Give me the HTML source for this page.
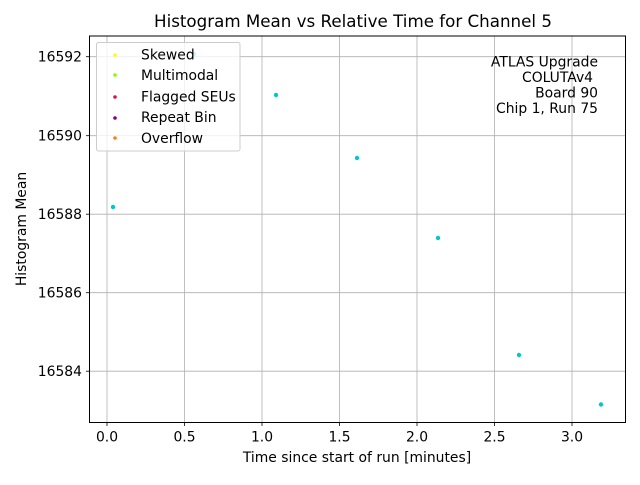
<!DOCTYPE html>
<html><head><style>
body{margin:0;background:#fff;}
svg text{font-family:"DejaVu Sans","Liberation Sans",sans-serif;fill:#000;}
</style></head><body>
<svg width="640" height="480" xmlns="http://www.w3.org/2000/svg">
<rect width="640" height="480" fill="#fff"/>
<g stroke="#b0b0b0" stroke-width="0.8">
<line x1="107" y1="36" x2="107" y2="422.5"/>
<line x1="184.5" y1="36" x2="184.5" y2="422.5"/>
<line x1="262" y1="36" x2="262" y2="422.5"/>
<line x1="339.5" y1="36" x2="339.5" y2="422.5"/>
<line x1="417" y1="36" x2="417" y2="422.5"/>
<line x1="494.5" y1="36" x2="494.5" y2="422.5"/>
<line x1="572" y1="36" x2="572" y2="422.5"/>
<line x1="89.5" y1="56.7" x2="625.5" y2="56.7"/>
<line x1="89.5" y1="135.7" x2="625.5" y2="135.7"/>
<line x1="89.5" y1="214.2" x2="625.5" y2="214.2"/>
<line x1="89.5" y1="292.7" x2="625.5" y2="292.7"/>
<line x1="89.5" y1="371.2" x2="625.5" y2="371.2"/>
</g>
<g fill="#00c8c8">
<circle cx="194" cy="54" r="2.2"/>
<circle cx="113" cy="207" r="2.2"/>
<circle cx="276" cy="95" r="2.2"/>
<circle cx="357" cy="158" r="2.2"/>
<circle cx="438" cy="238" r="2.2"/>
<circle cx="519" cy="355" r="2.2"/>
<circle cx="601" cy="404.5" r="2.2"/>
</g>
<rect x="89.5" y="36" width="536" height="386.5" fill="none" stroke="#000" stroke-width="1"/>
<g stroke="#000" stroke-width="0.8">
<line x1="107" y1="422.5" x2="107" y2="426"/><line x1="184.5" y1="422.5" x2="184.5" y2="426"/>
<line x1="262" y1="422.5" x2="262" y2="426"/><line x1="339.5" y1="422.5" x2="339.5" y2="426"/>
<line x1="417" y1="422.5" x2="417" y2="426"/><line x1="494.5" y1="422.5" x2="494.5" y2="426"/>
<line x1="572" y1="422.5" x2="572" y2="426"/>
<line x1="86" y1="56.7" x2="89.5" y2="56.7"/><line x1="86" y1="135.7" x2="89.5" y2="135.7"/>
<line x1="86" y1="214.2" x2="89.5" y2="214.2"/><line x1="86" y1="292.7" x2="89.5" y2="292.7"/>
<line x1="86" y1="371.2" x2="89.5" y2="371.2"/>
</g>
<g font-size="13.9" text-anchor="middle">
<text x="107" y="441.5">0.0</text><text x="184.5" y="441.5">0.5</text><text x="262" y="441.5">1.0</text>
<text x="339.5" y="441.5">1.5</text><text x="417" y="441.5">2.0</text><text x="494.5" y="441.5">2.5</text>
<text x="572" y="441.5">3.0</text>
</g>
<g font-size="13.9" text-anchor="end">
<text x="82" y="61.7">16592</text><text x="82" y="140.7">16590</text><text x="82" y="219.2">16588</text>
<text x="82" y="297.7">16586</text><text x="82" y="376.2">16584</text>
</g>
<text x="357" y="462" font-size="13.9" text-anchor="middle">Time since start of run [minutes]</text>
<text transform="translate(26,229) rotate(-90)" font-size="13.9" text-anchor="middle">Histogram Mean</text>
<text x="353" y="27" font-size="16.7" text-anchor="middle">Histogram Mean vs Relative Time for Channel 5</text>
<g font-size="13.9" text-anchor="end">
<text x="598" y="66.5">ATLAS Upgrade</text><text x="593" y="82">COLUTAv4</text>
<text x="598" y="97.5">Board 90</text><text x="598" y="113">Chip 1, Run 75</text>
</g>
<rect x="96.5" y="42.5" width="143.5" height="108.5" rx="2" fill="#fff" fill-opacity="0.8" stroke="#ccc" stroke-width="1"/>
<circle cx="115" cy="55" r="1.8" fill="#ffff00"/>
<circle cx="115" cy="75" r="1.8" fill="#7fff00"/>
<circle cx="115" cy="97" r="1.8" fill="#dc143c"/>
<circle cx="115" cy="118" r="1.8" fill="#800080"/>
<circle cx="115" cy="138" r="1.8" fill="#ff7f0e"/>
<g font-size="13.9">
<text x="141" y="59.5">Skewed</text><text x="141" y="80">Multimodal</text>
<text x="141" y="101.5">Flagged SEUs</text><text x="141" y="122">Repeat Bin</text>
<text x="141" y="143">Overflow</text>
</g>
</svg>
</body></html>
